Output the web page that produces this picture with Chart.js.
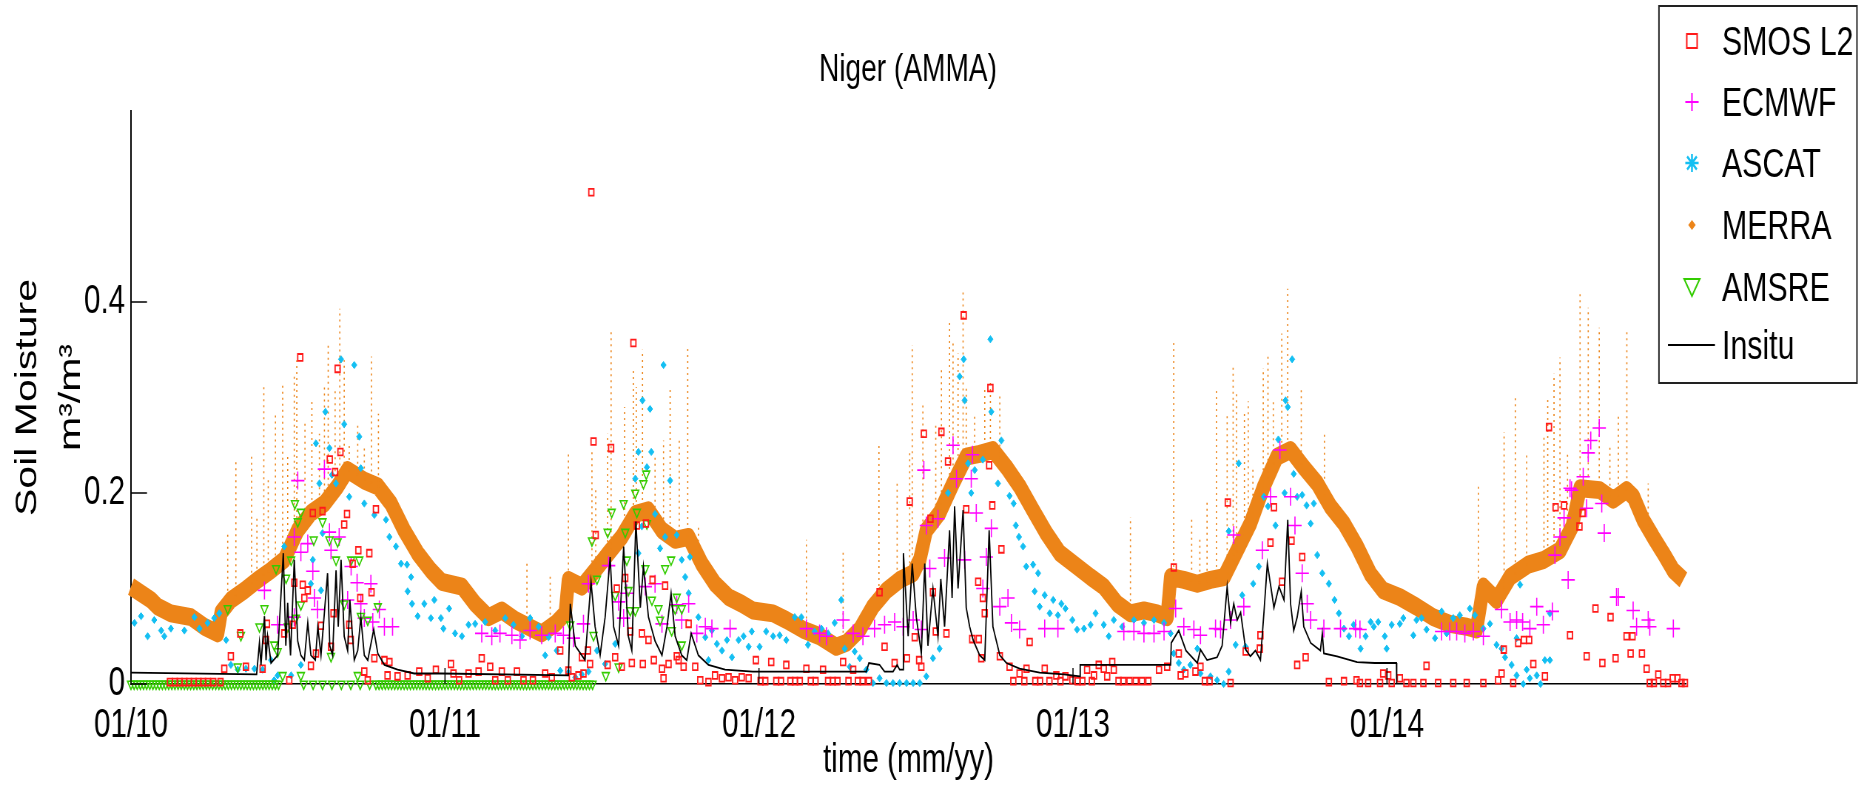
<!DOCTYPE html>
<html>
<head>
<meta charset="utf-8">
<title>Niger (AMMA)</title>
<script src="https://cdn.jsdelivr.net/npm/chart.js@4.4.1/dist/chart.umd.min.js"></script>
<style>
  html, body { margin: 0; padding: 0; background: #fff; overflow: hidden; }
  #chart { display: block; }
</style>
</head>
<body>
<canvas id="chart" style="width:1864px;height:792px"></canvas>
<script>
// Textos e eixos
const chartTitle = 'Niger (AMMA)';
const xAxisTitle = 'time (mm/yy)';
const yAxisTitle = ['Soil Moisture', 'm\u00b3/m\u00b3'];
const seriesNames = ['SMOS L2', 'ECMWF', 'ASCAT', 'MERRA', 'AMSRE', 'Insitu'];
const xTickVals = [0, 1, 2, 3, 4];            // anos desde 01/10
const xTickLabels = ['01/10', '01/11', '01/12', '01/13', '01/14'];
const yTickVals = [0, 0.2, 0.4];
const yTickLabels = ['0', '0.2', '0.4'];

// Dados [tempo (anos desde 01/2010), umidade m3/m3]
const smosPts = [
  [0.124,0.002],[0.14,0.002],[0.155,0.002],[0.17,0.002],[0.185,0.002],[0.2,0.002],[0.215,0.002],[0.23,0.002],[0.245,0.002],[0.262,0.002],
  [0.285,0.002],[0.297,0.016],[0.318,0.029],[0.348,0.053],[0.366,0.018],[0.419,0.016],[0.43,0.046],[0.433,0.063],[0.488,0.053],[0.504,0.004],
  [0.515,0.062],[0.52,0.106],[0.539,0.342],[0.547,0.104],[0.552,0.09],[0.563,0.098],[0.573,0.019],[0.579,0.179],[0.589,0.032],[0.605,0.061],
  [0.61,0.181],[0.633,0.235],[0.637,0.039],[0.645,0.074],[0.65,0.222],[0.658,0.33],[0.667,0.243],[0.679,0.167],[0.688,0.178],[0.695,0.062],
  [0.7,0.046],[0.706,0.126],[0.724,0.14],[0.73,0.09],[0.743,0.013],[0.754,0.004],[0.759,0.137],[0.766,0.096],[0.775,0.027],[0.78,0.183],
  [0.807,0.025],[0.817,0.009],[0.823,0.023],[0.849,0.008],[0.881,0.009],[0.918,0.013],[0.945,0.006],[0.971,0.015],
  [1.019,0.021],[1.027,0.011],[1.045,0.004],[1.075,0.011],[1.107,0.013],[1.117,0.027],[1.144,0.018],[1.16,0.004],[1.181,0.013],[1.2,0.004],
  [1.229,0.013],[1.25,0.004],[1.28,0.004],[1.319,0.011],[1.34,0.007],[1.367,0.035],[1.393,0.014],[1.404,0.007],[1.425,0.009],[1.436,0.028],
  [1.441,0.011],[1.455,0.035],[1.462,0.021],[1.466,0.515],[1.473,0.254],[1.48,0.156],[1.518,0.02],[1.529,0.247],[1.542,0.028],[1.547,0.1],
  [1.563,0.018],[1.574,0.111],[1.59,0.055],[1.595,0.022],[1.6,0.357],[1.611,0.166],[1.627,0.053],[1.63,0.021],[1.64,0.168],[1.648,0.046],
  [1.661,0.109],[1.665,0.025],[1.691,0.016],[1.696,0.006],[1.701,0.103],[1.712,0.021],[1.738,0.029],[1.744,0.025],[1.76,0.018],[1.776,0.063],
  [1.797,0.018],[1.813,0.004],[1.839,0.002],[1.86,0.009],[1.882,0.006],[1.903,0.007],[1.924,0.004],[1.945,0.007],[1.967,0.006],
  [1.99,0.025],[2.005,0.003],[2.02,0.003],[2.039,0.023],[2.055,0.003],[2.07,0.003],[2.087,0.02],[2.1,0.003],[2.115,0.003],[2.13,0.003],
  [2.151,0.016],[2.165,0.003],[2.18,0.003],[2.204,0.015],[2.22,0.003],[2.235,0.003],[2.25,0.003],[2.268,0.023],[2.285,0.003],[2.3,0.015],
  [2.315,0.003],[2.33,0.003],[2.35,0.003],[2.384,0.096],[2.4,0.039],[2.432,0.022],[2.471,0.027],[2.48,0.191],[2.496,0.049],[2.51,0.025],
  [2.517,0.018],[2.525,0.262],[2.546,0.173],[2.554,0.096],[2.563,0.055],[2.581,0.264],[2.597,0.053],[2.602,0.233],[2.652,0.386],[2.66,0.183],
  [2.679,0.047],[2.698,0.107],[2.7,0.047],[2.708,0.027],[2.713,0.09],[2.719,0.074],[2.733,0.229],[2.737,0.31],[2.743,0.187],[2.767,0.029],
  [2.772,0.141],[2.798,0.018],[2.81,0.003],[2.83,0.011],[2.845,0.003],[2.852,0.016],[2.862,0.044],[2.88,0.003],[2.895,0.003],[2.91,0.016],
  [2.925,0.003],[2.947,0.009],[2.96,0.003],
  [2.976,0.008],[2.998,0.004],[3.015,0.003],[3.03,0.003],[3.045,0.015],[3.06,0.003],[3.067,0.009],[3.082,0.02],[3.098,0.016],[3.109,0.008],
  [3.125,0.023],[3.13,0.015],[3.145,0.003],[3.16,0.003],[3.18,0.003],[3.2,0.003],[3.22,0.003],[3.24,0.003],[3.274,0.015],[3.3,0.018],
  [3.321,0.122],[3.337,0.032],[3.343,0.009],[3.358,0.011],[3.39,0.013],[3.406,0.018],[3.42,0.003],[3.435,0.003],[3.493,0.19],[3.502,0.001],
  [3.55,0.034],[3.595,0.037],[3.597,0.051],[3.629,0.148],[3.64,0.185],[3.666,0.107],[3.696,0.15],[3.714,0.02],[3.73,0.133],[3.741,0.028],
  [3.815,0.002],[3.863,0.003],[3.903,0.004],[3.914,0.001],[3.94,0.001],[3.978,0.001],[3.988,0.011],[4.004,0.009],[4.015,0.001],[4.041,0.006],
  [4.062,0.001],[4.084,0.001],[4.116,0.001],[4.126,0.019],[4.163,0.001],[4.211,0.001],[4.254,0.001],[4.307,0.001],[4.354,0.004],[4.365,0.011],
  [4.372,0.036],[4.402,0.001],[4.418,0.043],[4.436,0.046],[4.453,0.046],[4.466,0.021],[4.503,0.008],[4.516,0.269],[4.537,0.185],[4.564,0.187],
  [4.583,0.051],[4.613,0.165],[4.623,0.179],[4.636,0.029],[4.664,0.079],[4.686,0.022],[4.712,0.07],[4.728,0.027],[4.763,0.05],[4.776,0.032],
  [4.782,0.05],[4.812,0.032],[4.827,0.016],[4.837,0.001],[4.85,0.001],[4.864,0.01],[4.88,0.001],[4.895,0.001],[4.91,0.006],[4.925,0.006],
  [4.938,0.001],[4.949,0.001]
];

const ecmwfPts = [
  [0.425,0.098],[0.467,0.062],[0.52,0.154],[0.52,0.07],[0.531,0.213],[0.541,0.138],[0.563,0.147],[0.579,0.118],[0.584,0.09],[0.594,0.078],
  [0.616,0.225],[0.632,0.159],[0.637,0.14],[0.663,0.154],[0.69,0.088],[0.701,0.123],[0.72,0.106],[0.732,0.084],[0.743,0.069],[0.764,0.105],
  [0.77,0.065],[0.791,0.078],[0.807,0.06],[0.833,0.06],
  [1.117,0.053],[1.149,0.05],[1.175,0.053],[1.213,0.051],[1.239,0.046],[1.271,0.056],[1.308,0.051],[1.351,0.053],[1.377,0.051],[1.409,0.048],
  [1.441,0.063],[1.457,0.105],[1.521,0.124],[1.553,0.086],[1.569,0.069],[1.579,0.095],[1.638,0.102],[1.669,0.105],[1.691,0.063],[1.738,0.083],
  [1.754,0.067],[1.776,0.084],[1.802,0.053],[1.829,0.06],[1.85,0.058],[1.908,0.058],
  [2.151,0.058],[2.193,0.053],[2.215,0.05],[2.268,0.067],[2.3,0.053],[2.331,0.05],[2.368,0.058],[2.4,0.062],[2.432,0.065],[2.459,0.06],
  [2.491,0.067],[2.517,0.057],[2.525,0.224],[2.533,0.166],[2.544,0.121],[2.57,0.173],[2.591,0.132],[2.618,0.25],[2.629,0.215],[2.655,0.13],
  [2.676,0.215],[2.68,0.24],[2.692,0.179],[2.713,0.1],[2.724,0.133],[2.74,0.163],[2.767,0.081],[2.793,0.09],[2.804,0.064],[2.83,0.057],
  [2.91,0.058],[2.952,0.058],
  [3.162,0.055],[3.194,0.055],[3.226,0.053],[3.258,0.053],[3.29,0.055],[3.327,0.079],[3.353,0.06],[3.385,0.057],[3.406,0.051],[3.454,0.058],
  [3.47,0.057],[3.502,0.067],[3.512,0.156],[3.544,0.081],[3.603,0.14],[3.629,0.196],[3.659,0.245],[3.693,0.196],[3.707,0.166],[3.73,0.116],
  [3.746,0.084],[3.757,0.067],[3.799,0.058],[3.852,0.058],[3.9,0.058],[3.914,0.057],
  [4.174,0.055],[4.2,0.055],[4.222,0.055],[4.248,0.053],[4.275,0.055],[4.307,0.05],[4.365,0.078],[4.392,0.065],[4.413,0.067],[4.432,0.065],
  [4.455,0.058],[4.477,0.081],[4.498,0.062],[4.527,0.076],[4.535,0.135],[4.551,0.154],[4.564,0.174],[4.577,0.109],[4.583,0.205],[4.588,0.203],
  [4.625,0.217],[4.636,0.184],[4.641,0.242],[4.649,0.255],[4.676,0.268],[4.684,0.189],[4.692,0.158],[4.731,0.091],[4.737,0.091],[4.784,0.077],
  [4.795,0.06],[4.832,0.067],[4.837,0.06],[4.912,0.058]
];

const ascatPts = [
  [0.011,0.064],[0.032,0.071],[0.053,0.05],[0.074,0.067],[0.096,0.056],[0.106,0.05],[0.127,0.058],[0.17,0.056],[0.202,0.07],[0.218,0.058],
  [0.244,0.064],[0.265,0.069],[0.281,0.074],[0.303,0.046],[0.318,0.02],[0.34,0.015],[0.366,0.016],[0.393,0.016],[0.419,0.015],[0.446,0.025],
  [0.456,0.004],[0.467,0.009],[0.488,0.144],[0.51,0.009],[0.541,0.02],[0.573,0.105],[0.579,0.13],[0.589,0.252],[0.6,0.21],[0.605,0.098],
  [0.61,0.158],[0.619,0.285],[0.632,0.247],[0.64,0.219],[0.653,0.21],[0.669,0.34],[0.679,0.272],[0.695,0.196],[0.711,0.334],[0.727,0.259],
  [0.732,0.226],[0.743,0.189],[0.775,0.177],[0.812,0.172],[0.823,0.154],[0.844,0.144],[0.86,0.126],[0.879,0.125],[0.881,0.097],[0.892,0.112],
  [0.895,0.084],[0.913,0.071],[0.934,0.084],[0.955,0.069],[0.966,0.088],[0.987,0.069],
  [0.995,0.058],[1.013,0.079],[1.032,0.053],[1.054,0.05],[1.075,0.062],[1.096,0.063],[1.128,0.065],[1.16,0.056],[1.192,0.069],[1.218,0.062],
  [1.245,0.05],[1.271,0.069],[1.298,0.06],[1.319,0.03],[1.33,0.049],[1.356,0.035],[1.367,0.014],[1.393,0.012],[1.415,0.007],[1.436,0.01],
  [1.457,0.013],[1.484,0.035],[1.51,0.021],[1.542,0.042],[1.606,0.215],[1.616,0.243],[1.616,0.137],[1.627,0.165],[1.629,0.297],[1.643,0.227],
  [1.653,0.288],[1.657,0.243],[1.669,0.178],[1.685,0.142],[1.696,0.334],[1.701,0.154],[1.717,0.213],[1.738,0.156],[1.754,0.13],[1.765,0.112],
  [1.776,0.095],[1.78,0.133],[1.807,0.07],[1.829,0.049],[1.839,0.025],[1.85,0.056],[1.866,0.042],[1.882,0.035],[1.898,0.046],[1.914,0.028],
  [1.935,0.046],[1.951,0.05],[1.967,0.039],[1.977,0.055],
  [2.002,0.039],[2.023,0.055],[2.045,0.05],[2.066,0.051],[2.087,0.046],[2.114,0.07],[2.135,0.07],[2.156,0.041],[2.177,0.055],[2.199,0.058],
  [2.22,0.053],[2.241,0.064],[2.262,0.088],[2.273,0.037],[2.289,0.018],[2.305,0.034],[2.321,0.027],[2.342,0.015],[2.363,0.001],[2.384,0.006],
  [2.406,0.001],[2.427,0.001],[2.448,0.001],[2.47,0.001],[2.491,0.001],[2.512,0.001],[2.533,0.008],[2.554,0.027],[2.575,0.037],[2.602,0.2],
  [2.639,0.322],[2.652,0.34],[2.655,0.297],[2.666,0.231],[2.676,0.2],[2.687,0.224],[2.713,0.235],[2.737,0.361],[2.74,0.285],[2.761,0.21],
  [2.772,0.255],[2.798,0.197],[2.811,0.189],[2.818,0.166],[2.828,0.154],[2.841,0.144],[2.851,0.123],[2.873,0.125],[2.878,0.097],[2.889,0.116],
  [2.894,0.081],[2.91,0.093],[2.926,0.074],[2.937,0.088],[2.952,0.072],[2.963,0.084],
  [2.976,0.079],[2.998,0.067],[3.013,0.057],[3.035,0.058],[3.056,0.062],[3.072,0.074],[3.098,0.062],[3.114,0.05],[3.13,0.067],[3.157,0.06],
  [3.194,0.067],[3.226,0.064],[3.258,0.067],[3.29,0.064],[3.311,0.053],[3.321,0.032],[3.337,0.022],[3.353,0.015],[3.374,0.02],[3.396,0.037],
  [3.406,0.011],[3.438,0.008],[3.459,0.004],[3.48,0.0],[3.496,0.013],[3.496,0.16],[3.518,0.041],[3.528,0.231],[3.539,0.093],[3.55,0.039],
  [3.574,0.105],[3.592,0.123],[3.608,0.196],[3.621,0.186],[3.645,0.166],[3.654,0.256],[3.674,0.2],[3.677,0.297],[3.684,0.29],[3.698,0.34],
  [3.703,0.22],[3.714,0.196],[3.73,0.198],[3.744,0.187],[3.757,0.168],[3.767,0.189],[3.778,0.135],[3.794,0.116],[3.815,0.105],[3.833,0.088],
  [3.847,0.074],[3.863,0.058],[3.879,0.05],[3.894,0.062],[3.916,0.037],[3.932,0.05],[3.948,0.065],[3.958,0.06],
  [3.972,0.065],[3.993,0.05],[3.999,0.037],[4.015,0.062],[4.041,0.063],[4.052,0.069],[4.084,0.051],[4.094,0.067],[4.11,0.069],[4.126,0.057],
  [4.153,0.048],[4.174,0.076],[4.19,0.053],[4.211,0.069],[4.232,0.072],[4.264,0.079],[4.28,0.072],[4.307,0.058],[4.328,0.063],[4.349,0.041],
  [4.365,0.037],[4.376,0.028],[4.397,0.02],[4.413,0.009],[4.413,0.048],[4.424,0.104],[4.434,0.0],[4.445,0.015],[4.455,0.006],[4.477,0.009],
  [4.489,0.0],[4.503,0.025],[4.519,0.025],[4.519,0.074]
];

// MERRA: faixa principal e picos [tempo, base, topo]
const merraPts = [
  [0,0.102],[0.064,0.088],[0.085,0.081],[0.127,0.074],[0.191,0.07],[0.234,0.06],[0.276,0.053],[0.287,0.075],[0.318,0.088],[0.361,0.098],
  [0.403,0.109],[0.446,0.119],[0.488,0.13],[0.531,0.161],[0.573,0.179],[0.616,0.189],[0.658,0.207],[0.69,0.224],[0.743,0.213],[0.786,0.207],
  [0.828,0.189],[0.87,0.161],[0.913,0.137],[0.955,0.119],[0.99,0.107],[1.054,0.102],[1.096,0.084],[1.139,0.07],[1.181,0.077],[1.224,0.067],
  [1.266,0.06],[1.308,0.053],[1.351,0.063],[1.383,0.074],[1.393,0.109],[1.436,0.102],[1.478,0.119],[1.521,0.137],[1.563,0.154],[1.606,0.178],
  [1.648,0.182],[1.691,0.161],[1.733,0.151],[1.776,0.154],[1.818,0.126],[1.86,0.105],[1.903,0.091],[1.945,0.084],[1.981,0.077],[2.045,0.074],
  [2.087,0.067],[2.14,0.057],[2.193,0.05],[2.246,0.039],[2.278,0.043],[2.321,0.057],[2.363,0.081],[2.406,0.098],[2.448,0.109],[2.491,0.116],
  [2.512,0.13],[2.533,0.161],[2.575,0.179],[2.618,0.21],[2.66,0.238],[2.703,0.241],[2.745,0.245],[2.788,0.227],[2.83,0.207],[2.873,0.182],
  [2.915,0.158],[2.958,0.137],[3.013,0.123],[3.056,0.112],[3.098,0.102],[3.141,0.084],[3.183,0.074],[3.226,0.077],[3.268,0.074],[3.3,0.07],
  [3.311,0.112],[3.353,0.109],[3.396,0.105],[3.438,0.109],[3.481,0.112],[3.523,0.14],[3.565,0.168],[3.608,0.207],[3.65,0.238],[3.693,0.245],
  [3.735,0.227],[3.778,0.21],[3.82,0.186],[3.863,0.168],[3.905,0.144],[3.948,0.115],[3.988,0.098],[4.041,0.091],[4.094,0.081],[4.147,0.07],
  [4.2,0.063],[4.254,0.06],[4.285,0.057],[4.307,0.102],[4.349,0.088],[4.392,0.112],[4.45,0.125],[4.5,0.13],[4.551,0.14],[4.59,0.165],
  [4.615,0.205],[4.678,0.203],[4.721,0.193],[4.763,0.203],[4.785,0.196],[4.816,0.172],[4.848,0.154],[4.88,0.137],[4.912,0.119],[4.944,0.109]
];
const merraSpikes = [
  [0.308,0.085,0.158],[0.334,0.092,0.235],[0.384,0.104,0.242],[0.401,0.108,0.175],[0.423,0.114,0.311],[0.437,0.117,0.214],[0.46,0.122,0.283],
  [0.483,0.128,0.315],[0.499,0.135,0.242],[0.52,0.15,0.325],[0.528,0.155,0.339],[0.554,0.17,0.273],[0.576,0.18,0.297],[0.6,0.185,0.262],
  [0.616,0.189,0.311],[0.628,0.195,0.357],[0.65,0.204,0.308],[0.665,0.21,0.393],[0.679,0.218,0.339],[0.695,0.222,0.252],[0.722,0.218,0.273],
  [0.743,0.213,0.25],[0.766,0.21,0.343],[0.788,0.206,0.283],
  [1.261,0.061,0.126],[1.335,0.06,0.116],[1.393,0.1,0.241],[1.468,0.115,0.245],[1.48,0.119,0.203],[1.518,0.136,0.262],[1.529,0.14,0.37],
  [1.572,0.157,0.29],[1.6,0.175,0.329],[1.609,0.178,0.311],[1.629,0.18,0.35],[1.669,0.172,0.241],[1.696,0.16,0.255],[1.717,0.155,0.311],
  [1.746,0.152,0.259],[1.773,0.154,0.353],[1.807,0.13,0.164],
  [2.151,0.056,0.151],[2.268,0.041,0.139],[2.382,0.09,0.252],[2.44,0.107,0.214],[2.48,0.114,0.245],[2.488,0.116,0.355],[2.522,0.145,0.294],
  [2.563,0.174,0.273],[2.581,0.182,0.329],[2.607,0.2,0.378],[2.618,0.21,0.36],[2.634,0.22,0.346],[2.65,0.232,0.413],[2.66,0.238,0.311],
  [2.687,0.24,0.283],[2.719,0.243,0.311],[2.737,0.244,0.318],[2.767,0.236,0.304],
  [3.183,0.074,0.175],[3.321,0.11,0.358],[3.378,0.107,0.175],[3.404,0.105,0.154],[3.427,0.106,0.194],[3.457,0.11,0.311],[3.491,0.115,0.283],
  [3.51,0.128,0.334],[3.521,0.138,0.306],[3.546,0.155,0.287],[3.558,0.163,0.296],[3.573,0.172,0.226],[3.606,0.205,0.331],[3.621,0.215,0.346],
  [3.638,0.23,0.297],[3.665,0.24,0.367],[3.684,0.243,0.414],[3.727,0.23,0.31],[3.801,0.196,0.264],
  [4.291,0.06,0.208],[4.373,0.1,0.264],[4.409,0.115,0.302],[4.445,0.124,0.242],[4.5,0.13,0.259],[4.512,0.132,0.301],[4.532,0.136,0.325],
  [4.551,0.14,0.342],[4.575,0.15,0.243],[4.615,0.205,0.409],[4.641,0.205,0.394],[4.676,0.203,0.373],[4.71,0.195,0.249],[4.737,0.196,0.28],
  [4.764,0.203,0.369],[4.832,0.165,0.21]
];

// AMSRE: tempos com leitura ~0 e leituras acima de zero
const amsreZeroT = [
  0,0.01,0.02,0.03,0.04,0.05,0.06,0.07,0.08,0.09,0.1,0.11,0.12,0.13,0.14,0.15,0.16,0.17,0.18,0.19,0.2,0.21,0.22,0.23,
  0.24,0.25,0.26,0.27,0.28,0.29,0.3,0.31,0.32,0.33,0.34,0.35,0.36,0.37,0.38,0.39,0.4,0.41,0.42,0.43,0.44,0.45,0.46,0.47,
  0.55,0.58,0.61,0.64,0.67,0.7,0.73,0.76,
  0.78,0.79,0.8,0.81,0.82,0.83,0.84,0.85,0.86,0.87,0.88,0.89,0.9,0.91,0.92,0.93,0.94,0.95,0.96,0.97,0.98,0.99,
  1.0,1.01,1.02,1.03,1.04,1.05,1.06,1.07,1.08,1.09,1.1,1.11,1.12,1.13,1.14,1.15,1.16,1.17,1.18,1.19,1.2,1.21,1.22,1.23,
  1.24,1.25,1.26,1.27,1.28,1.29,1.3,1.31,1.32,1.33,1.34,1.35,1.36,1.37,1.38,1.39,1.4,1.41,1.42,1.43,1.44,1.45,1.46,1.47
];
const amsrePts = [
  [0.308,0.079],[0.34,0.018],[0.35,0.051],[0.409,0.06],[0.425,0.079],[0.456,0.041],[0.462,0.121],[0.467,0.034],[0.483,0.009],[0.494,0.111],
  [0.499,0.06],[0.51,0.13],[0.522,0.189],[0.525,0.069],[0.531,0.17],[0.541,0.18],[0.541,0.083],[0.541,0.009],[0.582,0.151],[0.61,0.17],
  [0.632,0.151],[0.637,0.029],[0.653,0.13],[0.658,0.149],[0.679,0.084],[0.701,0.13],[0.722,0.009],[0.727,0.13],[0.732,0.071],[0.754,0.067],
  [0.786,0.081],
  [1.399,0.062],[1.468,0.15],[1.473,0.051],[1.484,0.11],[1.512,0.009],[1.518,0.159],[1.531,0.18],[1.542,0.093],[1.553,0.018],[1.569,0.189],
  [1.574,0.159],[1.579,0.13],[1.584,0.098],[1.59,0.077],[1.606,0.2],[1.606,0.077],[1.611,0.18],[1.632,0.21],[1.638,0.121],[1.641,0.22],
  [1.643,0.168],[1.659,0.088],[1.68,0.079],[1.685,0.067],[1.701,0.121],[1.72,0.13],[1.722,0.056],[1.733,0.079],[1.738,0.091],[1.754,0.079],
  [1.754,0.041]
];

const insituPts = [
  [0,0.012],[0.4,0.01],[0.409,0.043],[0.414,0.02],[0.425,0.071],[0.43,0.025],[0.435,0.05],[0.446,0.022],[0.467,0.03],[0.485,0.137],
  [0.493,0.04],[0.499,0.085],[0.508,0.03],[0.52,0.13],[0.531,0.045],[0.541,0.03],[0.552,0.025],[0.563,0.064],[0.573,0.03],[0.587,0.025],
  [0.595,0.06],[0.605,0.03],[0.626,0.116],[0.633,0.04],[0.642,0.03],[0.653,0.119],[0.66,0.06],[0.669,0.13],[0.679,0.05],[0.69,0.035],
  [0.697,0.088],[0.711,0.025],[0.722,0.035],[0.732,0.07],[0.743,0.03],[0.754,0.025],[0.773,0.057],[0.786,0.032],[0.807,0.02],[0.849,0.015],
  [0.902,0.011],[0.99,0.011],[1.393,0.009],[1.399,0.084],[1.415,0.04],[1.446,0.025],[1.465,0.107],[1.478,0.06],[1.494,0.03],[1.51,0.07],
  [1.526,0.133],[1.537,0.06],[1.553,0.04],[1.569,0.144],[1.584,0.05],[1.595,0.035],[1.608,0.17],[1.622,0.08],[1.632,0.123],[1.648,0.07],
  [1.669,0.045],[1.691,0.03],[1.707,0.06],[1.72,0.095],[1.733,0.05],[1.754,0.03],[1.77,0.025],[1.784,0.053],[1.807,0.03],[1.839,0.02],
  [1.892,0.015],[1.98,0.013],[2.342,0.013],[2.35,0.022],[2.384,0.02],[2.4,0.013],[2.427,0.013],[2.44,0.02],[2.448,0.015],[2.459,0.015],
  [2.46,0.137],[2.475,0.05],[2.488,0.126],[2.501,0.07],[2.517,0.032],[2.528,0.126],[2.538,0.04],[2.554,0.1],[2.57,0.05],[2.579,0.11],
  [2.591,0.06],[2.607,0.161],[2.615,0.09],[2.623,0.186],[2.634,0.1],[2.65,0.182],[2.66,0.08],[2.671,0.06],[2.682,0.046],[2.703,0.03],
  [2.719,0.025],[2.733,0.161],[2.745,0.06],[2.767,0.03],[2.788,0.022],[2.83,0.016],[2.894,0.012],[2.971,0.01],[3.022,0.008],[3.023,0.02],
  [3.311,0.02],[3.313,0.043],[3.337,0.056],[3.36,0.035],[3.396,0.022],[3.406,0.036],[3.427,0.025],[3.459,0.028],[3.475,0.04],[3.491,0.102],
  [3.502,0.064],[3.512,0.084],[3.523,0.067],[3.534,0.075],[3.55,0.036],[3.565,0.029],[3.581,0.035],[3.597,0.025],[3.608,0.074],[3.619,0.126],
  [3.631,0.1],[3.64,0.08],[3.656,0.102],[3.672,0.088],[3.684,0.172],[3.693,0.084],[3.703,0.056],[3.714,0.07],[3.727,0.097],[3.735,0.06],
  [3.757,0.043],[3.788,0.035],[3.794,0.053],[3.799,0.032],[3.841,0.029],[3.905,0.023],[3.961,0.022],[4.03,0.022],[4.031,0]
];

// Cores
const colors = {
  smos: '#ff1a1a',
  ecmwf: '#ff00ff',
  ascat: '#14bff2',
  merra: 'rgb(236,132,24)',
  amsre: '#33cc00',
  insitu: '#000000'
};

// A figura original tem o texto comprimido na horizontal: desenha-se num canvas
// mais largo e o CSS o reduz para 1864px.
const SQUEEZE = 0.74;
const W = Math.round(1864 / SQUEEZE);
const px = v => v / SQUEEZE;
const FONT = '"Liberation Sans", Arial, Helvetica, sans-serif';

const toXY = arr => arr.map(p => ({ x: p[0], y: p[1] }));

function spikeData() {
  const out = [];
  merraSpikes.forEach(s => {
    out.push({ x: s[0], y: s[1] }, { x: s[0], y: s[2] }, { x: s[0], y: null });
  });
  return out;
}

// Legenda e título desenhados à mão (caixa com borda, como no original)
const decor = {
  id: 'decor',
  afterDraw(chart) {
    const { ctx, chartArea: a, scales } = chart;
    ctx.save();

    // ticks para dentro
    ctx.strokeStyle = '#000';
    ctx.lineWidth = 1.5;
    ctx.beginPath();
    yTickVals.forEach(v => {
      const py = scales.y.getPixelForValue(v);
      ctx.moveTo(a.left, py);
      ctx.lineTo(a.left + px(16), py);
    });
    xTickVals.forEach(v => {
      const p = scales.x.getPixelForValue(v);
      ctx.moveTo(p, a.bottom);
      ctx.lineTo(p, a.bottom - 16);
    });
    ctx.stroke();

    // título
    ctx.fillStyle = '#000';
    ctx.font = '38px ' + FONT;
    ctx.textAlign = 'center';
    ctx.textBaseline = 'middle';
    ctx.fillText(chartTitle, px(908), 71);

    // caixa da legenda
    const bx = px(1659), bw = px(1857) - px(1659);
    ctx.fillStyle = '#fff';
    ctx.fillRect(bx, 6, bw, 377);
    ctx.strokeStyle = '#222';
    ctx.lineWidth = 2;
    ctx.strokeRect(bx, 6, bw, 377);

    const rowY = [41, 102, 163, 225, 287, 345];
    const mx = px(1692);
    ctx.lineWidth = 2;

    // SMOS L2: quadrado
    ctx.strokeStyle = colors.smos;
    ctx.strokeRect(mx - 7, rowY[0] - 7, 14, 14);
    // ECMWF: +
    ctx.strokeStyle = colors.ecmwf;
    ctx.beginPath();
    ctx.moveTo(mx - 9, rowY[1]); ctx.lineTo(mx + 9, rowY[1]);
    ctx.moveTo(mx, rowY[1] - 9); ctx.lineTo(mx, rowY[1] + 9);
    ctx.stroke();
    // ASCAT: asterisco
    ctx.strokeStyle = colors.ascat;
    ctx.lineWidth = 2.5;
    ctx.beginPath();
    ctx.moveTo(mx - 9, rowY[2]); ctx.lineTo(mx + 9, rowY[2]);
    ctx.moveTo(mx, rowY[2] - 9); ctx.lineTo(mx, rowY[2] + 9);
    ctx.moveTo(mx - 6.5, rowY[2] - 6.5); ctx.lineTo(mx + 6.5, rowY[2] + 6.5);
    ctx.moveTo(mx + 6.5, rowY[2] - 6.5); ctx.lineTo(mx - 6.5, rowY[2] + 6.5);
    ctx.stroke();
    // MERRA: ponto
    ctx.fillStyle = colors.merra;
    ctx.beginPath();
    ctx.moveTo(mx, rowY[3] - 5); ctx.lineTo(mx + 5, rowY[3]);
    ctx.lineTo(mx, rowY[3] + 5); ctx.lineTo(mx - 5, rowY[3]);
    ctx.closePath();
    ctx.fill();
    // AMSRE: triângulo invertido
    ctx.strokeStyle = colors.amsre;
    ctx.lineWidth = 2;
    ctx.beginPath();
    ctx.moveTo(mx - 10.5, rowY[4] - 8); ctx.lineTo(mx + 10.5, rowY[4] - 8);
    ctx.lineTo(mx, rowY[4] + 9); ctx.closePath();
    ctx.stroke();
    // Insitu: linha
    ctx.strokeStyle = colors.insitu;
    ctx.beginPath();
    ctx.moveTo(px(1668), rowY[5]); ctx.lineTo(px(1715), rowY[5]);
    ctx.stroke();

    ctx.fillStyle = '#000';
    ctx.font = '41px ' + FONT;
    ctx.textAlign = 'left';
    ctx.textBaseline = 'alphabetic';
    seriesNames.forEach((name, i) => ctx.fillText(name, px(1722), rowY[i] + 14));

    ctx.restore();
  }
};

document.addEventListener('DOMContentLoaded', () => {
  const canvas = document.getElementById('chart');
  canvas.width = W;
  canvas.height = 792;

  new Chart(canvas.getContext('2d'), {
    type: 'scatter',
    data: {
      datasets: [
        {
          label: seriesNames[5], type: 'line', data: toXY(insituPts), order: 0,
          showLine: true, borderColor: colors.insitu, borderWidth: 1.8, pointRadius: 0,
          fill: false, tension: 0, clip: false
        },
        {
          label: seriesNames[0], data: toXY(smosPts), order: 1, showLine: false,
          pointStyle: 'rect', pointRadius: 4.8, pointBorderColor: colors.smos,
          pointBackgroundColor: 'rgba(0,0,0,0)', pointBorderWidth: 1.8, clip: false
        },
        {
          label: seriesNames[4],
          data: amsreZeroT.map(t => ({ x: t, y: 0 })).concat(toXY(amsrePts)),
          order: 2, showLine: false,
          pointStyle: 'triangle', pointRotation: 180, pointRadius: 5.5,
          pointBorderColor: colors.amsre, pointBackgroundColor: 'rgba(0,0,0,0)',
          pointBorderWidth: 1.6, clip: false
        },
        {
          label: seriesNames[1], data: toXY(ecmwfPts), order: 3, showLine: false,
          pointStyle: 'cross', pointRadius: 9, pointBorderColor: colors.ecmwf,
          pointBorderWidth: 1.6, clip: false
        },
        {
          label: seriesNames[2], data: toXY(ascatPts), order: 4, showLine: false,
          pointStyle: 'rectRot', pointRadius: 3.6, pointBorderColor: colors.ascat,
          pointBackgroundColor: colors.ascat, pointBorderWidth: 1, clip: false
        },
        {
          label: seriesNames[3] + ' picos', type: 'line', data: spikeData(), order: 5,
          showLine: true, spanGaps: false, borderColor: colors.merra, borderWidth: 1.6,
          borderDash: [2, 4], pointRadius: 0, fill: false, clip: false
        },
        {
          label: seriesNames[3], type: 'line', data: toXY(merraPts), order: 6,
          showLine: true, borderColor: colors.merra, borderWidth: 18,
          borderJoinStyle: 'round', borderCapStyle: 'butt', pointRadius: 0,
          fill: false, tension: 0, clip: false
        }
      ]
    },
    options: {
      responsive: false,
      animation: false,
      devicePixelRatio: 1,
      events: [],
      layout: { padding: { left: 0, right: W - px(1686), top: 111, bottom: 0 } },
      plugins: {
        legend: { display: false },
        tooltip: { enabled: false },
        title: { display: false }
      },
      scales: {
        x: {
          type: 'linear',
          min: 0,
          max: (1686 - 131) / 314,
          afterBuildTicks: s => { s.ticks = xTickVals.map(v => ({ value: v })); },
          afterFit: s => { s.height = 108; },
          grid: { display: false, drawTicks: false },
          border: { display: true, color: '#000', width: 1.5 },
          ticks: {
            autoSkip: false, maxRotation: 0, padding: 18, color: '#000',
            font: { family: FONT, size: 40 },
            callback: v => xTickLabels[xTickVals.indexOf(v)]
          },
          title: {
            display: true, text: xAxisTitle, color: '#000',
            font: { family: FONT, size: 40 }, padding: { top: 0, bottom: 7 }
          }
        },
        y: {
          type: 'linear',
          min: 0,
          max: 0.6,
          afterBuildTicks: s => { s.ticks = yTickVals.map(v => ({ value: v })); },
          afterFit: s => { s.width = px(131); },
          grid: { display: false, drawTicks: false },
          border: { display: true, color: '#000', width: 2 },
          ticks: {
            padding: 8, color: '#000',
            font: { family: FONT, size: 40 },
            callback: v => yTickLabels[yTickVals.indexOf(v)]
          },
          title: {
            display: true, text: yAxisTitle, color: '#000',
            font: { family: FONT, size: 41, lineHeight: 1.45 }, padding: { top: 8, bottom: 0 }
          }
        }
      }
    },
    plugins: [decor]
  });
});
</script>
</body>
</html>
